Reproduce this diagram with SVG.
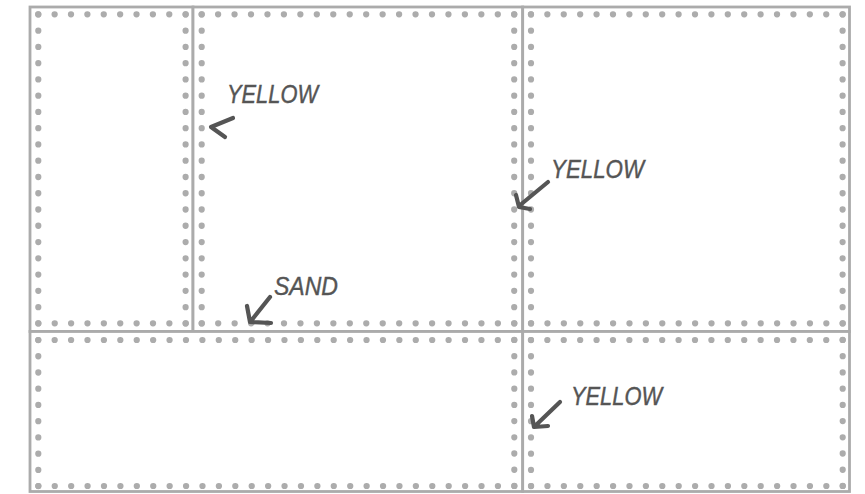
<svg xmlns="http://www.w3.org/2000/svg" width="865" height="494" viewBox="0 0 865 494">
<style>
.frame{fill:#fff;stroke:#ababab;stroke-width:2.8}
.dots{fill:none;stroke:#acacac;stroke-width:6.2;stroke-linecap:round}
.h9{stroke-dasharray:0.1 16.278}
.h19{stroke-dasharray:0.1 16.353}
.h19b{stroke-dasharray:0.1 16.305}
.h29{stroke-dasharray:0.1 16.314}
.v19{stroke-dasharray:0.1 16.163}
.v9{stroke-dasharray:0.1 16.122}
.arrow{fill:none;stroke:#555;stroke-width:4.2;stroke-linecap:round;stroke-linejoin:round}
.lbl{font-family:"Liberation Sans",Arial,sans-serif;font-style:italic;fill:#555;stroke:#555;stroke-width:0.4;font-size:25px}
</style>
<rect width="865" height="494" fill="#fff"/>
<g id="panel-1">
<rect class="frame" x="30" y="7" width="163" height="324.5"/>
<path class="dots h9" d="M38.2 14.3H186"/>
<path class="dots v19" d="M185.6 14.3V324"/>
<path class="dots h9" d="M185.8 323.3H38"/>
<path class="dots v19" d="M38.3 323.4V14"/>
</g>
<g id="panel-2">
<rect class="frame" x="193" y="7" width="329.7" height="324.5"/>
<path class="dots h19" d="M201.6 14.3H515"/>
<path class="dots v19" d="M514.2 14.3V324"/>
<path class="dots h19" d="M514.4 323.3H201"/>
<path class="dots v19" d="M201.7 323.4V14"/>
</g>
<g id="panel-3">
<rect class="frame" x="522.7" y="7" width="326.8" height="324.5"/>
<path class="dots h19b" d="M530.9 14.3H843"/>
<path class="dots v19" d="M842.6 14.3V324"/>
<path class="dots h19b" d="M842.8 323.3H530.5"/>
<path class="dots v19" d="M531 323.4V14"/>
</g>
<g id="panel-4">
<rect class="frame" x="30" y="331.5" width="492.7" height="160"/>
<path class="dots h29" d="M38.2 340H515"/>
<path class="dots v9" d="M514.3 339.9V486.5"/>
<path class="dots h29" d="M514.4 486H38"/>
<path class="dots v9" d="M38.3 486.1V339.5"/>
</g>
<g id="panel-5">
<rect class="frame" x="522.7" y="331.5" width="326.8" height="160"/>
<path class="dots h19b" d="M530.9 340H843"/>
<path class="dots v9" d="M842.7 339.9V486.5"/>
<path class="dots h19b" d="M842.8 486H530.5"/>
<path class="dots v9" d="M531 486.1V339.5"/>
</g>
<g id="connectors">
<path class="arrow" d="M233 118L211 127L225 137"/>
<path class="arrow" d="M548 182L519 206M516 195L519 207L530 209"/>
<path class="arrow" d="M270 297L251 321M247 306L250 322L271 323"/>
<path class="arrow" d="M560 402L535 426M532 416L534 427L548 426"/>
</g>
<g id="labels">
<text class="lbl" x="227" y="103" textLength="91" lengthAdjust="spacingAndGlyphs">YELLOW</text>
<text class="lbl" x="551" y="178" textLength="93" lengthAdjust="spacingAndGlyphs">YELLOW</text>
<text class="lbl" x="274" y="295" textLength="64" lengthAdjust="spacingAndGlyphs">SAND</text>
<text class="lbl" x="571" y="405" textLength="91" lengthAdjust="spacingAndGlyphs">YELLOW</text>
</g>
</svg>
